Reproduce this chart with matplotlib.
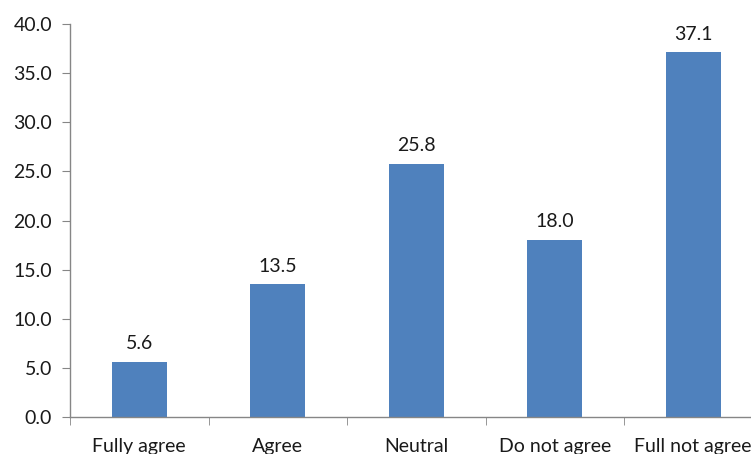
import matplotlib
matplotlib.use("Agg")
import matplotlib.pyplot as plt
from matplotlib.ticker import MultipleLocator, FormatStrFormatter

categories = ["Fully agree", "Agree", "Neutral", "Do not agree", "Full not agree"]
values = [5.6, 13.5, 25.8, 18.0, 37.1]

plt.rcParams["font.family"] = ["Lato", "DejaVu Sans"]

fig = plt.figure(figsize=(7.51, 4.54), dpi=100)
# plot area runs slightly past the right edge of the canvas
ax = fig.add_axes([70 / 751, 1 - 417 / 454, 692.5 / 751, 393 / 454])

x = range(len(categories))
ax.bar(x, values, width=0.4, color="#4F81BD", zorder=2)
for xi, v in zip(x, values):
    ax.annotate(f"{v:.1f}", (xi, v), xytext=(0, 7), textcoords="offset points",
                ha="center", va="bottom", fontsize=14, color="#1a1a1a")

ax.set_xlim(-0.5, len(categories) - 0.5)
ax.set_ylim(0, 40)
ax.yaxis.set_major_locator(MultipleLocator(5))
ax.yaxis.set_major_formatter(FormatStrFormatter("%.1f"))

ax.set_xticks(list(x))
ax.set_xticklabels(categories)
ax.set_xticks([i + 0.5 for i in range(-1, len(categories))], minor=True)
ax.tick_params(axis="x", which="major", length=0, pad=15, labelsize=14, colors="#1a1a1a")
ax.tick_params(axis="x", which="minor", length=6, color="#868686")
ax.tick_params(axis="y", length=6, color="#868686", labelsize=14, labelcolor="#1a1a1a", pad=7)

for side in ("top", "right"):
    ax.spines[side].set_visible(False)
for side in ("left", "bottom"):
    ax.spines[side].set_color("#868686")
    ax.spines[side].set_linewidth(1.0)

fig.savefig("out.png", dpi=100)
